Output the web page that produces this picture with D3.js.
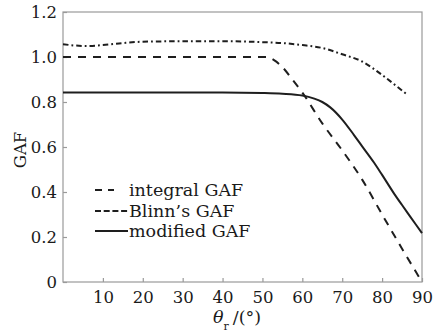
<!DOCTYPE html>
<html>
<head>
<meta charset="utf-8">
<script src="https://cdn.jsdelivr.net/npm/d3@7"></script>
<style>
  html, body { margin: 0; padding: 0; background: #fff; }
  svg { display: block; }
  text { font-family: "DejaVu Serif", "Liberation Serif", serif; fill: #1a1a1a; }
</style>
</head>
<body>
<svg id="chart" width="435" height="333"></svg>
<script>
// Geometric attenuation factor (GAF) versus reflection angle θr (degrees)
const xTicks = [10, 20, 30, 40, 50, 60, 70, 80, 90];
const yTicks = [0, 0.2, 0.4, 0.6, 0.8, 1.0, 1.2];
const yTickLabels = ["0", "0.2", "0.4", "0.6", "0.8", "1.0", "1.2"];

const integralAngle = [0, 51, 53, 55, 57.5, 60, 65, 70, 75, 80, 85, 90];
const integralGAF   = [1.0, 1.0, 0.985, 0.955, 0.9, 0.842, 0.705, 0.585, 0.455, 0.30, 0.148, 0.0];

const blinnAngle = [0, 3, 6, 10, 15, 20, 30, 40, 50, 55, 60, 65, 70, 75, 80, 85, 86.5];
const blinnGAF   = [1.057, 1.051, 1.049, 1.053, 1.062, 1.068, 1.070, 1.070, 1.066, 1.062, 1.053, 1.040, 1.012, 0.980, 0.920, 0.851, 0.830];

const modifiedAngle = [0, 20, 40, 50, 55, 60, 63, 65, 67, 70, 73, 75, 78, 80, 83, 85, 87, 90];
const modifiedGAF   = [0.842, 0.842, 0.842, 0.840, 0.837, 0.829, 0.815, 0.800, 0.776, 0.722, 0.652, 0.603, 0.530, 0.476, 0.393, 0.342, 0.292, 0.217];

const seriesNames = ["integral GAF", "Blinn\u2019s GAF", "modified GAF"];

const svg = d3.select("#chart");
const plotLeft = 63, plotRight = 422, plotTop = 12, plotBottom = 282;

const x = d3.scaleLinear().domain([0, 90]).range([plotLeft, plotRight]);
const y = d3.scaleLinear().domain([0, 1.2]).range([plotBottom, plotTop]);

const frameColor = "#9a9a9a";

// plot frame
svg.append("rect")
  .attr("x", plotLeft).attr("y", plotTop)
  .attr("width", plotRight - plotLeft).attr("height", plotBottom - plotTop)
  .attr("fill", "none").attr("stroke", frameColor).attr("stroke-width", 1.2);

// bottom axis: inward ticks and labels
const xAxis = svg.append("g").attr("transform", `translate(0,${plotBottom})`)
  .call(d3.axisBottom(x).tickValues(xTicks).tickSizeInner(-4).tickSizeOuter(0).tickPadding(9));
xAxis.select(".domain").remove();
xAxis.selectAll(".tick line").attr("stroke", frameColor).attr("stroke-width", 1.2);
xAxis.selectAll(".tick text")
  .style("font-family", '"DejaVu Serif", serif').style("font-size", "16.5px").attr("fill", "#1a1a1a");

// left axis
const yAxis = svg.append("g").attr("transform", `translate(${plotLeft},0)`)
  .call(d3.axisLeft(y).tickValues(yTicks).tickFormat((d, i) => yTickLabels[i])
    .tickSizeInner(-4).tickSizeOuter(0).tickPadding(6));
yAxis.select(".domain").remove();
yAxis.selectAll(".tick line").attr("stroke", frameColor).attr("stroke-width", 1.2);
yAxis.selectAll(".tick text")
  .style("font-family", '"DejaVu Serif", serif').style("font-size", "16.5px").attr("fill", "#1a1a1a");

// axis titles
svg.append("text")
  .attr("transform", "translate(26,150) rotate(-90)")
  .attr("text-anchor", "middle")
  .style("font-size", "16.5px")
  .text("GAF");

const xTitle = svg.append("text")
  .attr("x", 213).attr("y", 323)
  .style("font-size", "17.5px");
xTitle.append("tspan").style("font-style", "italic").text("\u03b8");
xTitle.append("tspan").attr("dy", 7).style("font-size", "11px").text("r");
xTitle.append("tspan").attr("dy", -7).attr("dx", 4).text("/(\u00b0)");

// curves
const line = d3.line()
  .x(d => x(d[0])).y(d => y(d[1]))
  .curve(d3.curveMonotoneX);

const styles = [
  { dash: "8,7" },
  { dash: "5.5,3,1.8,3" },
  { dash: null }
];
const series = [
  d3.zip(integralAngle, integralGAF),
  d3.zip(blinnAngle, blinnGAF),
  d3.zip(modifiedAngle, modifiedGAF)
];

series.forEach((pts, i) => {
  svg.append("path")
    .datum(pts)
    .attr("d", line)
    .attr("fill", "none")
    .attr("stroke", "#1e1e1e")
    .attr("stroke-width", 2)
    .attr("stroke-dasharray", styles[i].dash);
});

// legend
const legendDash = ["7,6", "6,2.7", null];
const legendRows = [190, 211, 231];
const legendText = [196, 216.5, 236.5];
seriesNames.forEach((name, i) => {
  svg.append("line")
    .attr("x1", 95).attr("x2", i === 0 ? 114 : 128)
    .attr("y1", legendRows[i]).attr("y2", legendRows[i])
    .attr("stroke", "#1e1e1e").attr("stroke-width", 2)
    .attr("stroke-dasharray", legendDash[i]);
  svg.append("text")
    .attr("x", 129).attr("y", legendText[i])
    .style("font-size", "17.5px")
    .text(name);
});
</script>
</body>
</html>
